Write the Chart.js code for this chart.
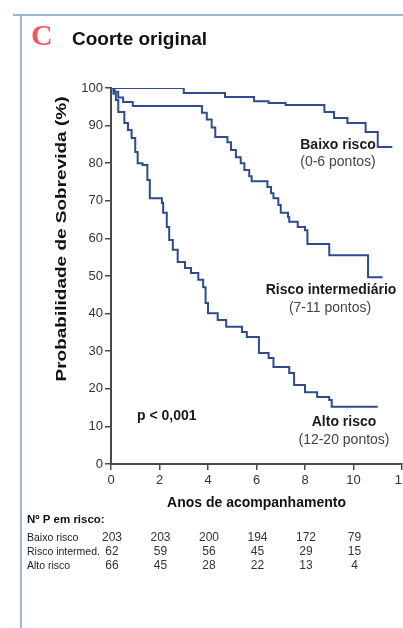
<!DOCTYPE html>
<html>
<head>
<meta charset="utf-8">
<script src="https://cdn.jsdelivr.net/npm/chart.js@4"></script>
<style>
  html, body { margin: 0; padding: 0; background: #fff; overflow: hidden; }
  canvas { display: block; }
</style>
</head>
<body>
<canvas id="grafico" width="420" height="628"></canvas>
<script>
// Dados (tempo em anos, sobrevida em %)
const tempoBaixo = [0, 3.0, 4.7, 5.9, 6.5, 7.2, 8.8, 9.2, 9.75, 10.5, 11.0, 11.6];
const sobrevBaixo = [100, 98.7, 97.6, 96.5, 96.0, 95.5, 93.6, 92.0, 90.7, 88.3, 84.3, 84.3];

const tempoInter = [0, 0.15, 0.3, 0.5, 0.9, 3.75, 3.95, 4.15, 4.3, 4.8, 4.95, 5.15, 5.35, 5.5, 5.7, 5.8,
    6.45, 6.6, 6.7, 6.9, 7.0, 7.3, 7.35, 7.7, 8.0, 8.1, 9.0, 10.6, 11.2];
const sobrevInter = [100, 99, 97.5, 96.3, 95.2, 93.4, 91.6, 89.5, 87.0, 85.6, 83.5, 81.6, 80.0, 78.2, 76.5, 75.2,
    73.7, 72.0, 70.7, 68.9, 66.8, 65.7, 64.4, 63.0, 62.2, 58.5, 55.5, 49.7, 49.7];

const tempoAlto = [0, 0.1, 0.2, 0.3, 0.55, 0.7, 0.85, 1.0, 1.1, 1.3, 1.5, 1.6, 2.1, 2.15, 2.3, 2.4, 2.55, 2.75,
    3.05, 3.3, 3.6, 3.8, 3.9, 4.0, 4.4, 4.75, 5.4, 5.6, 6.1, 6.5, 6.7, 7.35, 7.55, 8.0, 8.5, 9.0, 9.1, 11.0];
const sobrevAlto = [100, 98.5, 96.8, 93.6, 90.7, 88.8, 86.7, 83.0, 80.0, 79.5, 75.5, 70.7, 69.4, 66.8, 63.0, 59.6, 57.0, 53.7,
    52.1, 50.8, 49.0, 47.0, 42.8, 40.1, 38.3, 36.5, 35.1, 33.8, 29.5, 28.2, 25.8, 24.2, 21.0, 19.1, 17.8, 17.0, 15.2, 15.2];

// Tabela de pacientes em risco
const anosTabela = [0, 2, 4, 6, 8, 10];
const rotulosTabela = ['Baixo risco', 'Risco intermed.', 'Alto risco'];
const riscoBaixo = [203, 203, 200, 194, 172, 79];
const riscoInter = [62, 59, 56, 45, 29, 15];
const riscoAlto = [66, 45, 28, 22, 13, 4];

const corLinha = '#2d4b8e';
const corEixo = '#4a4a4a';

function pontos(tempos, valores) {
    return tempos.map((t, i) => ({ x: t, y: valores[i] }));
}

function serie(tempos, valores) {
    return {
        data: pontos(tempos, valores),
        borderColor: corLinha,
        borderWidth: 2,
        pointRadius: 0,
        stepped: 'before',
        fill: false
    };
}

// Textos, moldura e tabela desenhados à mão
const textos = {
    id: 'textos',
    beforeDraw(chart) {
        const ctx = chart.ctx;
        ctx.save();
        ctx.strokeStyle = '#9db4d4';
        ctx.lineWidth = 2;
        ctx.beginPath();
        ctx.moveTo(13, 15);
        ctx.lineTo(420, 15);
        ctx.moveTo(21, 15);
        ctx.lineTo(21, 628);
        ctx.stroke();
        ctx.restore();
    },
    afterDraw(chart) {
        const ctx = chart.ctx;
        const xs = chart.scales.x;
        ctx.save();

        // Título
        ctx.textBaseline = 'alphabetic';
        ctx.textAlign = 'left';
        ctx.fillStyle = '#f25a5a';
        ctx.font = 'bold 30px "Liberation Serif", serif';
        ctx.fillText('C', 31, 45);
        ctx.fillStyle = '#111';
        ctx.font = 'bold 19px "Liberation Sans", Arial, sans-serif';
        ctx.fillText('Coorte original', 72, 45);

        // Título do eixo y (esticado no comprimento como no original)
        ctx.save();
        ctx.translate(62, 239);
        ctx.rotate(-Math.PI / 2);
        ctx.font = 'bold 14px "Liberation Sans", Arial, sans-serif';
        const tituloY = 'Probabilidade de Sobrevida (%)';
        const larg = ctx.measureText(tituloY).width;
        ctx.scale(285 / larg, 1);
        ctx.textAlign = 'center';
        ctx.textBaseline = 'middle';
        ctx.fillStyle = '#111';
        ctx.fillText(tituloY, 0, 0);
        ctx.restore();

        // Título do eixo x
        ctx.textAlign = 'center';
        ctx.textBaseline = 'middle';
        ctx.fillStyle = '#111';
        ctx.font = 'bold 14px "Liberation Sans", Arial, sans-serif';
        ctx.fillText('Anos de acompanhamento', (xs.left + xs.right) / 2, 503);

        // Rótulos das curvas
        ctx.font = 'bold 14px "Liberation Sans", Arial, sans-serif';
        ctx.fillStyle = '#1a1a1a';
        ctx.fillText('Baixo risco', 338, 145);
        ctx.fillText('Risco intermediário', 331, 290);
        ctx.fillText('Alto risco', 344, 422);
        ctx.font = '14px "Liberation Sans", Arial, sans-serif';
        ctx.fillStyle = '#444';
        ctx.fillText('(0-6 pontos)', 338, 162);
        ctx.fillText('(7-11 pontos)', 330, 308);
        ctx.fillText('(12-20 pontos)', 344, 440);

        ctx.textAlign = 'left';
        ctx.font = 'bold 14px "Liberation Sans", Arial, sans-serif';
        ctx.fillStyle = '#1a1a1a';
        ctx.fillText('p < 0,001', 137, 416);

        // Tabela "em risco"
        ctx.font = 'bold 11.5px "Liberation Sans", Arial, sans-serif';
        ctx.fillStyle = '#111';
        ctx.fillText('Nº P em risco:', 27, 520);
        const linhas = [riscoBaixo, riscoInter, riscoAlto];
        const yLinhas = [538, 552, 566];
        linhas.forEach((valores, i) => {
            ctx.textAlign = 'left';
            ctx.font = '10.5px "Liberation Sans", Arial, sans-serif';
            ctx.fillStyle = '#222';
            ctx.fillText(rotulosTabela[i], 27, yLinhas[i]);
            ctx.textAlign = 'center';
            ctx.font = '12px "Liberation Sans", Arial, sans-serif';
            ctx.fillStyle = '#333';
            valores.forEach((v, j) => {
                ctx.fillText(String(v), xs.getPixelForValue(anosTabela[j]) + 1, yLinhas[i]);
            });
        });

        ctx.restore();
    }
};

new Chart(document.getElementById('grafico'), {
    type: 'line',
    data: {
        datasets: [
            serie(tempoBaixo, sobrevBaixo),
            serie(tempoInter, sobrevInter),
            serie(tempoAlto, sobrevAlto)
        ]
    },
    options: {
        responsive: false,
        animation: false,
        layout: { padding: { left: 71, right: 18, top: 88, bottom: 134 } },
        plugins: { legend: { display: false }, tooltip: { enabled: false } },
        scales: {
            x: {
                type: 'linear',
                min: 0,
                max: 12,
                afterFit: (s) => { s.height = 30; },
                ticks: { stepSize: 2, color: '#333', font: { size: 13, family: '"Liberation Sans", Arial, sans-serif' }, padding: 3, maxRotation: 0 },
                grid: { drawOnChartArea: false, tickLength: 6, color: corEixo, lineWidth: 1.5 },
                border: { color: corEixo, width: 2 }
            },
            y: {
                min: 0,
                max: 100,
                afterFit: (s) => { s.width = 40; },
                ticks: { stepSize: 10, color: '#333', font: { size: 13, family: '"Liberation Sans", Arial, sans-serif' }, padding: 2 },
                grid: { drawOnChartArea: false, tickLength: 6, color: corEixo, lineWidth: 1.5 },
                border: { color: corEixo, width: 2 }
            }
        }
    },
    plugins: [textos]
});
</script>
</body>
</html>
